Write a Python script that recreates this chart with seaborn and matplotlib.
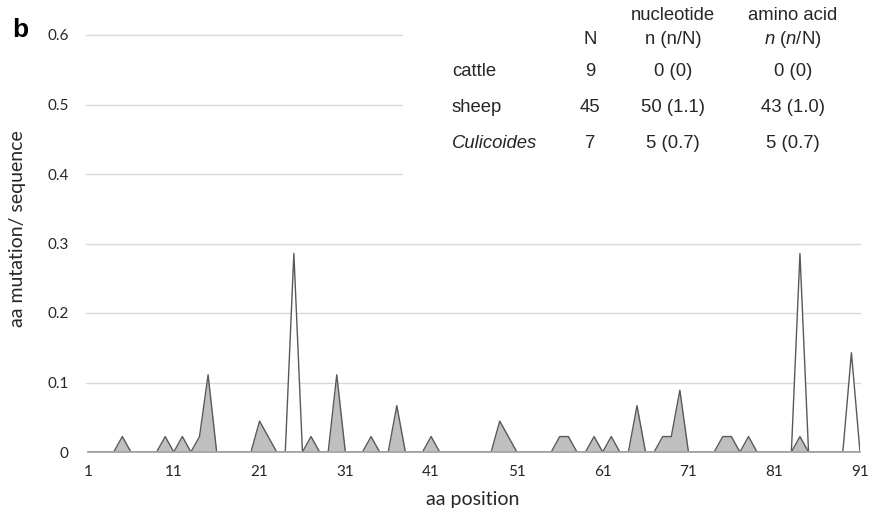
import numpy as np
import pandas as pd
import matplotlib
matplotlib.use("Agg")
import matplotlib.pyplot as plt
import seaborn as sns

# ---- data ----
positions = list(range(1, 92))
sheep_N = 45
sheep_mut_pos = [5, 10, 12, 14, 15, 21, 22, 27, 30, 34, 37, 41, 49, 50, 56, 57,
                 60, 62, 65, 68, 69, 70, 75, 76, 78, 84]
sheep_mut_cnt = [1, 1, 1, 1, 5, 2, 1, 1, 5, 1, 3, 1, 2, 1, 1, 1,
                 1, 1, 3, 1, 1, 4, 1, 1, 1, 1]
cul_N = 7
cul_mut_pos = [25, 84, 90]
cul_mut_cnt = [2, 2, 1]

x_ticks = [1, 11, 21, 31, 41, 51, 61, 71, 81, 91]
y_ticks = [0, 0.1, 0.2, 0.3, 0.4, 0.5, 0.6]
y_tick_labels = ["0", "0.1", "0.2", "0.3", "0.4", "0.5", "0.6"]

table_cols = ["N", "nucleotide\nn (n/N)", "amino acid\n$\\mathit{n}$ ($\\mathit{n}$/N)"]
table_rows = ["cattle", "sheep", "Culicoides"]
table_N = ["9", "45", "7"]
table_nt = ["0 (0)", "50 (1.1)", "5 (0.7)"]
table_aa = ["0 (0)", "43 (1.0)", "5 (0.7)"]

sheep_vals = np.zeros(len(positions))
for p, c in zip(sheep_mut_pos, sheep_mut_cnt):
    sheep_vals[p - 1] = c / sheep_N
cul_vals = np.zeros(len(positions))
for p, c in zip(cul_mut_pos, cul_mut_cnt):
    cul_vals[p - 1] = c / cul_N

df = pd.DataFrame({"pos": positions, "sheep": sheep_vals, "Culicoides": cul_vals})

# ---- style ----
sns.set_theme(style="white")
plt.rcParams["mathtext.fontset"] = "custom"
plt.rcParams["mathtext.rm"] = "Liberation Sans"
plt.rcParams["mathtext.it"] = "Liberation Sans:italic"

W, H = 870, 515
fig = plt.figure(figsize=(W / 100, H / 100), dpi=100)
ax = fig.add_axes([88 / W, 63 / H, 772 / W, 417 / H])

edge = "#595959"
fill = "#bfbfbf"

# Culicoides (white area)
ax.fill_between(df["pos"], df["Culicoides"], color="white", zorder=2, lw=0)
sns.lineplot(data=df, x="pos", y="Culicoides", ax=ax, color=edge, lw=1.0, zorder=3)
# sheep (grey area)
ax.fill_between(df["pos"], df["sheep"], color=fill, zorder=4, lw=0)
sns.lineplot(data=df, x="pos", y="sheep", ax=ax, color=edge, lw=1.0, zorder=5)

ax.set_xlim(1, 91)
ax.set_ylim(0, 0.6)

# gridlines (upper ones hidden behind the table area)
for yv in y_ticks[1:]:
    xmax = 1.0 if yv < 0.35 else (402 - 88) / 772
    ax.axhline(yv, xmin=-0.003, xmax=xmax, color="#d9d9d9", lw=1.0, zorder=0.5,
               clip_on=False)

for s in ["top", "right", "left"]:
    ax.spines[s].set_visible(False)
ax.spines["bottom"].set_color("#a6a6a6")
ax.spines["bottom"].set_linewidth(1.3)
ax.spines["bottom"].set_zorder(6)

tick_font = dict(family="Lato", size=11, color="#262626")
ax.set_xticks(x_ticks)
ax.set_xticklabels([str(t) for t in x_ticks], fontdict=tick_font)
ax.set_yticks(y_ticks)
ax.set_yticklabels(y_tick_labels, fontdict=tick_font)
ax.tick_params(axis="x", length=5, width=1, color="#d9d9d9", pad=4, direction="out")
ax.tick_params(axis="y", length=0, pad=14)

ax.set_xlabel("aa position", family="Lato", size=14, color="#262626")
ax.set_ylabel("aa mutation/ sequence", family="Lato", size=14, color="#262626")
ax.xaxis.label.set_va("center")
ax.yaxis.label.set_va("center")
ax.xaxis.set_label_coords((473 - 88) / 772, (452 - 499) / 417)
ax.yaxis.set_label_coords((17 - 88) / 772, (452 - 229) / 417)

# panel letter
fig.text(12 / W, 1 - 30 / H, "b", family="Liberation Sans", weight="bold", size=19,
         ha="left", va="center", color="black")

# table
tf = dict(family="Liberation Sans", size=13.3, color="#262626")
col_x = [590, 673, 793]
for cx, lab in zip(col_x, table_cols):
    lines = lab.split("\n")
    fig.text(cx / W, 1 - 40 / H, lines[-1], ha="center", va="center", **tf)
    if len(lines) > 1:
        fig.text(cx / W, 1 - 15 / H, lines[0], ha="center", va="center", **tf)
row_y = [72, 107, 144]
for ry, name, n, nt, aa in zip(row_y, table_rows, table_N, table_nt, table_aa):
    style = "italic" if name == "Culicoides" else "normal"
    fig.text(452 / W, 1 - ry / H, name, ha="left", va="center", style=style, **tf)
    fig.text(col_x[0] / W, 1 - ry / H, n, ha="center", va="center", **tf)
    fig.text(col_x[1] / W, 1 - ry / H, nt, ha="center", va="center", **tf)
    fig.text(col_x[2] / W, 1 - ry / H, aa, ha="center", va="center", **tf)

fig.savefig("out.png", dpi=100, facecolor="white")
